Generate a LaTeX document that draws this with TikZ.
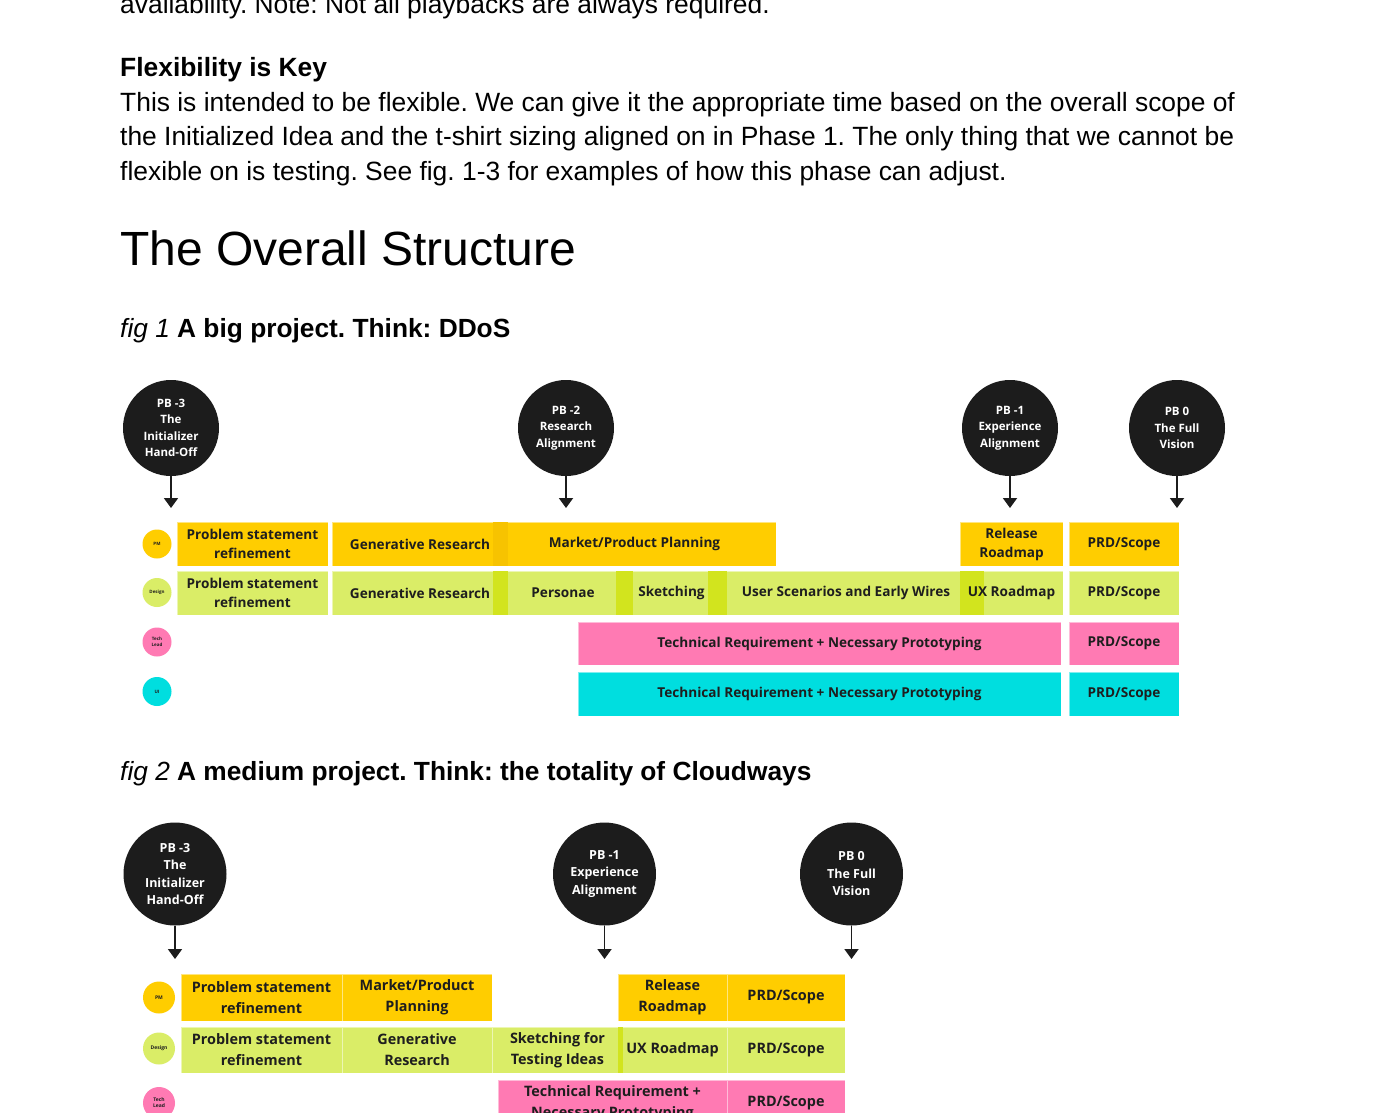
\documentclass[tikz,border=0pt]{standalone}
\usepackage{fontspec}
\setmainfont{Liberation Sans}
\newfontfamily\osans{Open Sans}
\usetikzlibrary{arrows.meta}
\definecolor{pmy}{HTML}{FFCD00}
\definecolor{pmyd}{HTML}{F7C300}
\definecolor{dsg}{HTML}{DAED67}
\definecolor{dsgd}{HTML}{D2E41E}
\definecolor{tlp}{HTML}{FF7AB3}
\definecolor{uic}{HTML}{00DEDF}
\definecolor{pbk}{HTML}{1C1C1C}
\definecolor{ink}{HTML}{1E1E1E}
\newcommand\cellbox[6]{%
  \node[cellfill, fill=#6, minimum width={(#4-#2)*1pt}, minimum height={(#5-#3)*1pt}] (#1) at ({(#2+#4)/2},{(#3+#5)/2}) {};}
\newcommand\stripbox[5]{%
  \fill[#5] (#1,#2) rectangle (#3,#4);}
\frenchspacing
\begin{document}
\begin{tikzpicture}[x=1pt,y=-1pt,
  cellfill/.style={rectangle, inner sep=0pt, draw=white, draw opacity=0.5, line width=0.7pt},
  lblA/.style={align=center, inner sep=0pt, text=ink, font=\osans\bfseries\fontsize{13.6}{19}\selectfont},
  lblB/.style={align=center, inner sep=0pt, text=ink, font=\osans\bfseries\fontsize{14.4}{21}\selectfont},
  pbA/.style={circle, fill=pbk, text=white, align=center, inner sep=0pt, minimum size=96pt, font=\osans\bfseries\fontsize{11.5}{16.5}\selectfont},
  pbB/.style={circle, fill=pbk, text=white, align=center, inner sep=0pt, minimum size=103pt, font=\osans\bfseries\fontsize{12.5}{17.5}\selectfont},
  roleA/.style={circle, inner sep=0pt, minimum size=29pt, align=center, text=ink, font=\osans\bfseries\fontsize{4.5}{5.5}\selectfont},
  roleB/.style={circle, inner sep=0pt, minimum size=32pt, align=center, text=ink, font=\osans\bfseries\fontsize{5}{6}\selectfont},
  arr/.style={draw=pbk, line width=1.9pt, -{Triangle[width=14pt,length=10pt]}},
  body/.style={anchor=base west, inner sep=0pt, text=black, font=\fontsize{26.4}{34.5}\selectfont}
]
\useasboundingbox[fill=white] (0,0) rectangle (1374,1112);

% ---- body text
\node[body] (t0) at (120,13) {availability. Note: Not all playbacks are always required.};
\node[body, font=\bfseries\fontsize{26.4}{34.5}\selectfont] (t1) at (120,76) {Flexibility is Key};
\node[body] (t2) at (120,111) {This is intended to be flexible. We can give it the appropriate time based on the overall scope of};
\node[body] (t3) at (120,145.5) {the Initialized Idea and the t-shirt sizing aligned on in Phase 1. The only thing that we cannot be};
\node[body] (t4) at (120,180) {flexible on is testing. See fig. 1-3 for examples of how this phase can adjust.};
\node[body, font=\fontsize{48}{56}\selectfont] (h1) at (120,265) {The Overall Structure};
\node[body, font=\fontsize{26.3}{30}\selectfont] (f1) at (120,337) {\textit{fig 1} \textbf{A big project. Think: DDoS}};
\node[body, font=\fontsize{26.3}{30}\selectfont] (f2) at (120,780) {\textit{fig 2} \textbf{A medium project. Think: the totality of Cloudways}};

% ================= FIG 1
\node[pbA] (p13) at (171,428) {PB -3\\The\\Initializer\\Hand-Off};
\node[pbA] (p12) at (566,428) {PB -2\\Research\\Alignment};
\node[pbA] (p11) at (1010,428) {PB -1\\Experience\\Alignment};
\node[pbA] (p10) at (1177,428) {PB 0\\The Full\\Vision};
\coordinate (e13) at (171,508);
\coordinate (e12) at (566,508);
\coordinate (e11) at (1010,508);
\coordinate (e10) at (1177,508);
\draw[arr] (p13) -- (e13);
\draw[arr] (p12) -- (e12);
\draw[arr] (p11) -- (e11);
\draw[arr] (p10) -- (e10);

\node[roleA, fill=pmy] (ra1) at (157,544) {PM};
\node[roleA, fill=dsg] (ra2) at (157,592.5) {Design};
\node[roleA, fill=tlp] (ra3) at (157,642) {Tech\\Lead};
\node[roleA, fill=uic] (ra4) at (157,691.5) {UI};

% PM row
\cellbox{a1a}{177}{522}{328}{566}{pmy}
\cellbox{a1b}{332}{522}{508}{566}{pmy}
\cellbox{a1c}{493}{522}{776}{566}{pmy}
\stripbox{493}{522}{508}{566}{pmyd}
\cellbox{a1d}{960}{522}{1063}{566}{pmy}
\cellbox{a1e}{1069}{522}{1179}{566}{pmy}
% Design row
\cellbox{a2a}{177}{571}{328}{615}{dsg}
\cellbox{a2b}{332}{571}{508}{615}{dsg}
\cellbox{a2c}{493}{571}{633}{615}{dsg}
\cellbox{a2d}{616}{571}{727}{615}{dsg}
\cellbox{a2e}{708}{571}{984}{615}{dsg}
\cellbox{a2f}{960}{571}{1063}{615}{dsg}
\stripbox{493}{571}{508}{615}{dsgd}
\stripbox{616}{571}{633}{615}{dsgd}
\stripbox{708}{571}{727}{615}{dsgd}
\stripbox{960}{571}{984}{615}{dsgd}
\cellbox{a2g}{1069}{571}{1179}{615}{dsg}
% Tech lead row
\cellbox{a3a}{578}{622}{1061}{665}{tlp}
\cellbox{a3b}{1069}{622}{1179}{665}{tlp}
% UI row
\cellbox{a4a}{578}{672}{1061}{716}{uic}
\cellbox{a4b}{1069}{672}{1179}{716}{uic}

\node[lblA] (a1aT) at (a1a) {Problem statement\\refinement};
\node[lblA] (a1bT) at (a1b) {Generative Research};
\node[lblA] (a1cT) at (a1c) {Market/Product Planning};
\node[lblA] (a1dT) at (a1d) {Release\\Roadmap};
\node[lblA] (a1eT) at (a1e) {PRD/Scope};
\node[lblA] (a2aT) at (a2a) {Problem statement\\refinement};
\node[lblA] (a2bT) at (a2b) {Generative Research};
\node[lblA] (a2cT) at (a2c) {Personae};
\node[lblA] (a2dT) at (a2d) {Sketching};
\node[lblA] (a2eT) at (a2e) {User Scenarios and Early Wires};
\node[lblA] (a2fT) at (a2f) {UX Roadmap};
\node[lblA] (a2gT) at (a2g) {PRD/Scope};
\node[lblA] (a3aT) at (a3a) {Technical Requirement + Necessary Prototyping};
\node[lblA] (a3bT) at (a3b) {PRD/Scope};
\node[lblA] (a4aT) at (a4a) {Technical Requirement + Necessary Prototyping};
\node[lblA] (a4bT) at (a4b) {PRD/Scope};

% ================= FIG 2
\node[pbB] (p23) at (175,874) {PB -3\\The\\Initializer\\Hand-Off};
\node[pbB] (p21) at (604.5,874) {PB -1\\Experience\\Alignment};
\node[pbB] (p20) at (851.5,874) {PB 0\\The Full\\Vision};
\coordinate (e23) at (175,959);
\coordinate (e21) at (604.5,959);
\coordinate (e20) at (851.5,959);
\draw[arr] (p23) -- (e23);
\draw[arr] (p21) -- (e21);
\draw[arr] (p20) -- (e20);

\node[roleB, fill=pmy] (rb1) at (159,997.5) {PM};
\node[roleB, fill=dsg] (rb2) at (159,1048.5) {Design};
\node[roleB, fill=tlp] (rb3) at (159,1103) {Tech\\Lead};

\cellbox{b1a}{181}{974}{342}{1021}{pmy}
\cellbox{b1b}{342}{974}{492}{1021}{pmy}
\cellbox{b1c}{618}{974}{727}{1021}{pmy}
\cellbox{b1d}{727}{974}{845}{1021}{pmy}
\cellbox{b2a}{181}{1027}{342}{1073}{dsg}
\cellbox{b2b}{342}{1027}{492}{1073}{dsg}
\cellbox{b2c}{492}{1027}{623}{1073}{dsg}
\cellbox{b2d}{618}{1027}{727}{1073}{dsg}
\stripbox{618}{1027}{623}{1073}{dsgd}
\cellbox{b2e}{727}{1027}{845}{1073}{dsg}
\cellbox{b3a}{498}{1080}{727}{1126}{tlp}
\cellbox{b3b}{727}{1080}{845}{1126}{tlp}

\node[lblB] (b1aT) at (b1a) {Problem statement\\refinement};
\node[lblB] (b1bT) at (b1b) {Market/Product\\Planning};
\node[lblB] (b1cT) at (b1c) {Release\\Roadmap};
\node[lblB] (b1dT) at (b1d) {PRD/Scope};
\node[lblB] (b2aT) at (b2a) {Problem statement\\refinement};
\node[lblB] (b2bT) at (b2b) {Generative\\Research};
\node[lblB] (b2cT) at (b2c) {Sketching for\\Testing Ideas};
\node[lblB] (b2dT) at (b2d) {UX Roadmap};
\node[lblB] (b2eT) at (b2e) {PRD/Scope};
\node[lblB] (b3aT) at (b3a) {Technical Requirement +\\Necessary Prototyping};
\node[lblB] (b3bT) at (b3b) {PRD/Scope};
\end{tikzpicture}
\end{document}
